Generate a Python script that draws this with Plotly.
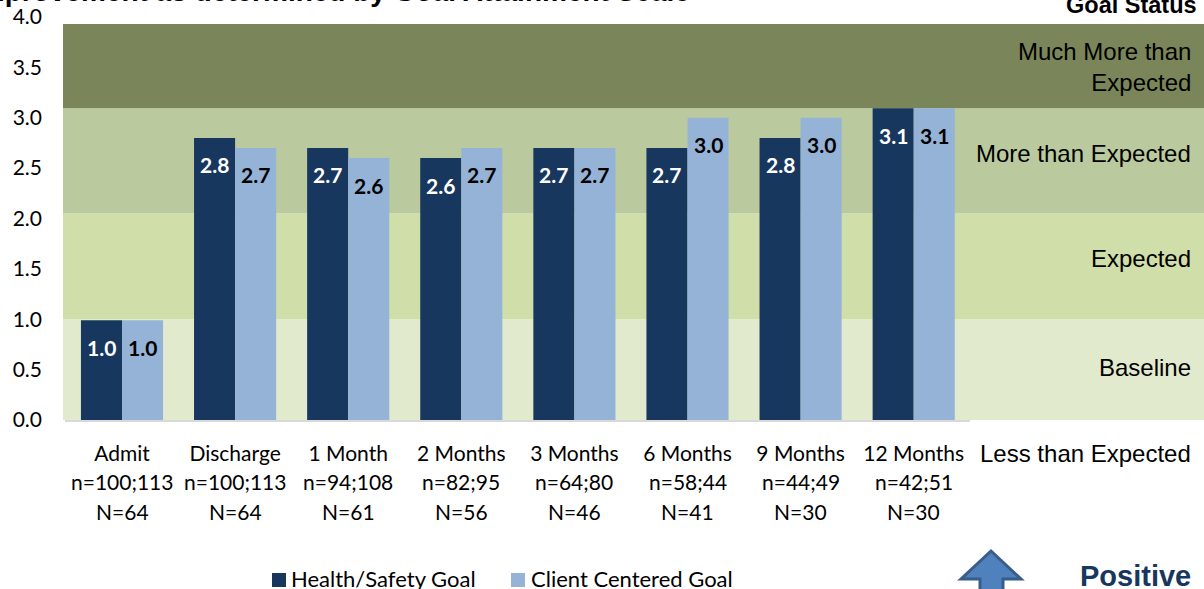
import plotly.graph_objects as go

categories = ["Admit", "Discharge", "1 Month", "2 Months", "3 Months", "6 Months", "9 Months", "12 Months"]
n_labels = ["n=100;113", "n=100;113", "n=94;108", "n=82;95", "n=64;80", "n=58;44", "n=44;49", "n=42;51"]
N_labels = ["N=64", "N=64", "N=61", "N=56", "N=46", "N=41", "N=30", "N=30"]
health_safety = [0.99, 2.8, 2.7, 2.6, 2.7, 2.7, 2.8, 3.095]
client_centered = [0.99, 2.7, 2.6, 2.7, 2.7, 3.0, 3.0, 3.095]
band_edges = [0, 1.0, 2.05, 3.095, 3.93]
band_colors = ["#e1eacd", "#d0dea9", "#bbca9e", "#7a865a"]
band_labels = [("Baseline", 367), ("Expected", 258), ("More than Expected", 153),
               ("Much More than<br>Expected", 67), ("Less than Expected", 454)]

W, H = 1204, 589
L, R, T, B = 63, 0, 17, 169
px = lambda x: (x - L) / (W - L - R)
py = lambda y: (H - B - y) / (H - T - B)
pos = list(range(len(categories)))
calibri = "Lato"
arial = "Liberation Sans"
BARGAP = 0.274
STEP = 113.1
offset = (1 - BARGAP) / 4
series = [("Health/Safety Goal", health_safety, "#17375e", "white", -offset, 272, 289),
          ("Client Centered Goal", client_centered, "#95b3d7", "black", offset, 511, 529)]

fig = go.Figure()
shapes, ann = [], []
for i, c in enumerate(band_colors):
    shapes.append(dict(type="rect", xref="paper", yref="y", x0=0, x1=1, y0=band_edges[i], y1=band_edges[i + 1],
                       fillcolor=c, line_width=0, layer="below"))
for name, vals, col, tcol, off, sq, tx in series:
    fig.add_trace(go.Bar(name=name, x=pos, y=vals, marker=dict(color=col, line=dict(width=0)), hoverinfo="skip"))
    for p, v in zip(pos, vals):
        ann.append(dict(x=p + off, y=v, xref="x", yref="y", yshift=-27, text=f"<b>{v:.1f}</b>", showarrow=False,
                        yanchor="middle", font=dict(family=calibri, size=21, color=tcol)))
    shapes.append(dict(type="rect", xref="paper", yref="paper", x0=px(sq), x1=px(sq + 14), y0=py(573), y1=py(587),
                       fillcolor=col, line_width=0))
    ann.append(dict(x=px(tx), y=py(578), xref="paper", yref="paper", text=name, showarrow=False, xanchor="left",
                    yanchor="middle", font=dict(family=calibri, size=22, color="black")))

shapes.append(dict(type="line", xref="paper", yref="paper", x0=px(65), x1=px(970), y0=py(421), y1=py(421),
                   line=dict(color="#d9d9d9", width=2)))
pts = [(991, 551), (1021, 579), (1003, 579), (1003, 600), (980, 600), (980, 579), (961, 579)]
path = "M" + " L".join(f"{px(a)},{py(b)}" for a, b in pts) + " Z"
shapes.append(dict(type="path", xref="paper", yref="paper", path=path, fillcolor="#4f81bd",
                   line=dict(color="#385d8a", width=3)))

for i, (a, b) in enumerate(zip(n_labels, N_labels)):
    ann.append(dict(x=i, y=py(482), xref="x", yref="paper", text=a, showarrow=False,
                    font=dict(family=calibri, size=21, color="black"), yanchor="middle"))
    ann.append(dict(x=i, y=py(511), xref="x", yref="paper", text=b, showarrow=False,
                    font=dict(family=calibri, size=21, color="black"), yanchor="middle"))
for t, y in band_labels:
    ann.append(dict(x=px(1193), y=py(y), xref="paper", yref="paper", text=t, showarrow=False, align="right",
                    xanchor="right", yanchor="middle", font=dict(family=arial, size=24, color="black")))
ann.append(dict(x=px(692), y=py(-8), xref="paper", yref="paper", text="<b>Improvement as determined by Goal Attainment Scale</b>",
                showarrow=False, xanchor="right", yanchor="middle", font=dict(family=arial, size=28, color="black")))
ann.append(dict(x=px(1199), y=py(5), xref="paper", yref="paper", text="<b>Goal Status</b>", showarrow=False,
                xanchor="right", yanchor="middle", font=dict(family=arial, size=23.5, color="black")))
ann.append(dict(x=px(1193), y=py(576), xref="paper", yref="paper", text="<b>Positive</b>", showarrow=False,
                xanchor="right", yanchor="middle", font=dict(family=arial, size=29, color="#17375e")))

fig.update_layout(
    width=W, height=H, margin=dict(l=L, r=R, t=T, b=B, pad=0), paper_bgcolor="white", plot_bgcolor="white",
    barmode="group", bargap=BARGAP, bargroupgap=0, shapes=shapes, annotations=ann, showlegend=False,
    xaxis=dict(range=[(L - 122) / STEP, (W - 122) / STEP], tickvals=pos, ticktext=categories, showgrid=False,
               ticks="", zeroline=False, showline=False, tickfont=dict(family=calibri, size=21, color="black"),
               tickangle=0, ticklabelstandoff=19),
    yaxis=dict(range=[0, 4], tickvals=[0, .5, 1, 1.5, 2, 2.5, 3, 3.5, 4], tickformat=".1f", showgrid=False, ticks="",
               zeroline=False, showline=False, tickfont=dict(family=calibri, size=21, color="black"), ticklabelstandoff=20),
)
fig.write_html("out.html", config={"displayModeBar": False},
               post_script="document.body.style.margin='0';document.body.style.overflow='hidden';")
